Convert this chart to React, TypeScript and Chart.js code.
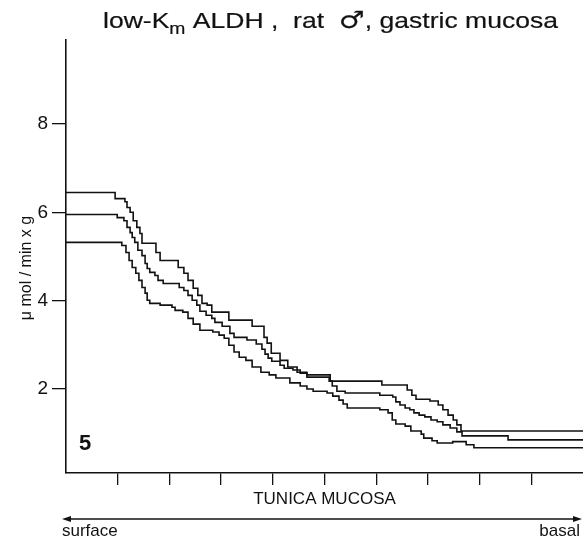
import React, { useEffect, useRef } from "react";
import { Chart, registerables } from "chart.js";

Chart.register(...registerables);

// Relative depth in the tunica mucosa (0 = surface, 100 = basal) where each level starts
const depthUpper = [0, 9.5, 11.4, 11.8, 12.4, 13.0, 13.7, 14.3, 14.7, 17.4, 18.2, 21.7, 22.8, 23.6, 24.6, 25.5, 26.3, 27.3, 28.2, 31.5, 36.0, 38.3, 38.9, 39.7, 41.4, 42.9, 44.7, 46.6, 51.1, 61.1, 66.0, 66.9, 67.7, 70.4, 72.0, 72.9, 73.9, 74.9, 75.6, 76.4, 100];
const activityUpper = [6.45, 6.31, 6.24, 6.11, 6.0, 5.81, 5.66, 5.52, 5.3, 5.09, 4.91, 4.75, 4.62, 4.46, 4.28, 4.12, 3.94, 3.9, 3.74, 3.56, 3.42, 3.17, 3.04, 2.81, 2.65, 2.5, 2.38, 2.32, 2.18, 2.09, 1.98, 1.86, 1.77, 1.73, 1.64, 1.53, 1.41, 1.3, 1.19, 1.05, 1.05];

const depthMiddle = [0, 9.9, 11.2, 11.8, 12.4, 12.8, 13.3, 13.9, 14.7, 15.3, 15.7, 16.2, 17.2, 17.8, 18.8, 21.9, 22.8, 23.6, 24.4, 25.3, 25.9, 27.1, 28.2, 28.8, 30.2, 31.7, 32.5, 35.0, 36.8, 37.9, 38.5, 39.1, 39.8, 41.4, 42.2, 43.9, 45.3, 46.6, 50.9, 51.5, 52.4, 54.0, 60.7, 63.2, 63.8, 64.6, 65.6, 66.5, 67.3, 68.3, 69.4, 70.6, 71.8, 72.9, 74.3, 75.6, 76.6, 85.5, 100];
const activityMiddle = [5.95, 5.88, 5.81, 5.66, 5.54, 5.43, 5.32, 5.14, 5.02, 4.84, 4.73, 4.64, 4.57, 4.46, 4.39, 4.3, 4.23, 4.12, 4.01, 3.9, 3.76, 3.67, 3.6, 3.51, 3.42, 3.26, 3.17, 3.11, 3.02, 2.9, 2.79, 2.7, 2.63, 2.54, 2.47, 2.43, 2.36, 2.27, 2.18, 2.07, 1.95, 1.91, 1.86, 1.82, 1.71, 1.64, 1.57, 1.53, 1.46, 1.41, 1.37, 1.3, 1.26, 1.19, 1.12, 1.03, 0.94, 0.85, 0.85];

const depthLower = [0, 10.8, 11.6, 12.2, 12.8, 13.5, 14.1, 14.7, 15.3, 15.7, 16.2, 18.2, 20.5, 21.1, 22.6, 23.6, 24.6, 25.9, 28.4, 29.6, 30.6, 31.5, 32.5, 33.5, 34.8, 36.0, 37.7, 39.3, 40.6, 43.3, 45.3, 46.6, 47.8, 50.5, 51.6, 52.8, 53.6, 54.4, 60.7, 62.3, 63.1, 63.8, 65.6, 66.7, 68.7, 69.2, 70.8, 71.8, 74.8, 77.4, 78.9, 100];
const activityLower = [5.32, 5.25, 5.09, 4.91, 4.75, 4.62, 4.46, 4.3, 4.17, 4.01, 3.94, 3.9, 3.85, 3.78, 3.74, 3.6, 3.47, 3.33, 3.29, 3.22, 3.15, 2.99, 2.84, 2.72, 2.65, 2.5, 2.38, 2.32, 2.25, 2.14, 2.07, 2.0, 1.95, 1.91, 1.84, 1.75, 1.66, 1.57, 1.53, 1.46, 1.3, 1.21, 1.16, 1.05, 0.98, 0.89, 0.83, 0.78, 0.81, 0.74, 0.67, 0.67];

const yTickValues = [2, 4, 6, 8];
const xTickValues = [10, 20, 30, 40, 50, 60, 70, 80, 90];

const X_MIN = 0;
const X_MAX = 100;
const Y_MIN = 0.1;
const Y_MAX = 9.9;

const FONT = '"Liberation Sans", Arial, Helvetica, "DejaVu Sans", sans-serif';
const SYMBOL_FONT = '"DejaVu Sans", sans-serif';
const INK = "#121212";

const toPoints = (xs: number[], ys: number[]) => xs.map((x, i) => ({ x, y: ys[i] }));

const decorPlugin = {
  id: "decor",
  afterDraw(chart: any) {
    const ctx: CanvasRenderingContext2D = chart.ctx;
    const { left, bottom } = chart.chartArea;
    const W = chart.width;
    ctx.save();
    ctx.fillStyle = INK;
    ctx.strokeStyle = INK;

    // Title with subscript, stretched to the width it has in the figure
    const segs = [
      { t: "low-K", font: `22px ${FONT}`, dy: 0 },
      { t: "m", font: `16px ${FONT}`, dy: 6 },
      { t: " ALDH ,  rat  ", font: `22px ${FONT}`, dy: 0 },
      { t: "\u2642", font: `24px ${SYMBOL_FONT}`, dy: 0 },
      { t: ", gastric mucosa", font: `22px ${FONT}`, dy: 0 },
    ];
    let total = 0;
    for (const s of segs) {
      ctx.font = s.font;
      total += ctx.measureText(s.t).width;
    }
    const titleLeft = 103;
    const titleWidth = 455;
    const sx = titleWidth / total;
    ctx.save();
    ctx.translate(titleLeft, 0);
    ctx.scale(sx, 1);
    ctx.textBaseline = "alphabetic";
    ctx.textAlign = "left";
    ctx.lineWidth = 0.2;
    let x = 0;
    for (const s of segs) {
      ctx.font = s.font;
      ctx.fillText(s.t, x, 28 + s.dy);
      ctx.strokeText(s.t, x, 28 + s.dy);
      x += ctx.measureText(s.t).width;
    }
    ctx.restore();

    // Y axis title
    ctx.save();
    ctx.translate(27, 268);
    ctx.rotate(-Math.PI / 2);
    ctx.textAlign = "center";
    ctx.textBaseline = "middle";
    ctx.font = `16px ${FONT}`;
    ctx.fillText("\u03bc mol / min x g", 0, 0);
    ctx.restore();

    // Panel number
    ctx.font = `bold 22px ${FONT}`;
    ctx.textAlign = "left";
    ctx.textBaseline = "alphabetic";
    ctx.fillText("5", left + 13, bottom - 23);

    // Double arrow
    const ay = 519;
    const ax0 = left - 4;
    const ax1 = W - 1;
    ctx.lineWidth = 1.5;
    ctx.beginPath();
    ctx.moveTo(ax0 + 6, ay);
    ctx.lineTo(ax1 - 6, ay);
    ctx.stroke();
    ctx.beginPath();
    ctx.moveTo(ax0, ay);
    ctx.lineTo(ax0 + 9, ay - 3);
    ctx.lineTo(ax0 + 9, ay + 3);
    ctx.closePath();
    ctx.fill();
    ctx.beginPath();
    ctx.moveTo(ax1, ay);
    ctx.lineTo(ax1 - 9, ay - 3);
    ctx.lineTo(ax1 - 9, ay + 3);
    ctx.closePath();
    ctx.fill();

    ctx.font = `17px ${FONT}`;
    ctx.textBaseline = "alphabetic";
    ctx.textAlign = "left";
    ctx.fillText("surface", left - 4, 536);
    ctx.textAlign = "right";
    ctx.fillText("basal", W - 3, 536);
    ctx.restore();
  },
};

export default function App() {
  const canvasRef = useRef<HTMLCanvasElement | null>(null);

  useEffect(() => {
    if (!canvasRef.current) return;
    const lineStyle = {
      borderColor: INK,
      borderWidth: 1.6,
      pointRadius: 0,
      fill: false,
      stepped: true as const,
    };
    const chart = new Chart(canvasRef.current, {
      type: "line",
      data: {
        datasets: [
          { label: "upper", data: toPoints(depthUpper, activityUpper), ...lineStyle },
          { label: "middle", data: toPoints(depthMiddle, activityMiddle), ...lineStyle },
          { label: "lower", data: toPoints(depthLower, activityLower), ...lineStyle },
        ],
      },
      options: {
        responsive: false,
        animation: false,
        devicePixelRatio: 1,
        layout: { padding: { top: 40, left: 0, right: 0, bottom: 0 } },
        plugins: {
          legend: { display: false },
          tooltip: { enabled: false },
          title: { display: false },
        },
        scales: {
          x: {
            type: "linear",
            min: X_MIN,
            max: X_MAX,
            position: "bottom",
            border: { display: true, color: INK, width: 1.6 },
            grid: { display: true, drawOnChartArea: false, drawTicks: true, tickLength: 12, color: INK, lineWidth: 1.3 },
            ticks: { display: false },
            afterBuildTicks: (scale: any) => {
              scale.ticks = xTickValues.map((v) => ({ value: v }));
            },
            afterFit: (scale: any) => {
              scale.height = 66;
            },
            title: {
              display: true,
              text: "TUNICA MUCOSA",
              color: INK,
              font: { family: FONT, size: 17 },
              padding: { top: 0, bottom: 29 },
            },
          },
          y: {
            type: "linear",
            min: Y_MIN,
            max: Y_MAX,
            position: "left",
            border: { display: true, color: INK, width: 1.6 },
            grid: { display: true, drawOnChartArea: false, drawTicks: true, tickLength: 14, color: INK, lineWidth: 1.3 },
            ticks: {
              color: INK,
              font: { family: FONT, size: 19 },
              padding: 4,
              callback: (v: any) => String(v),
            },
            afterBuildTicks: (scale: any) => {
              scale.ticks = yTickValues.map((v) => ({ value: v }));
            },
            afterFit: (scale: any) => {
              scale.width = 66;
            },
          },
        },
      },
      plugins: [decorPlugin],
    });
    return () => chart.destroy();
  }, []);

  return (
    <div style={{ position: "absolute", left: 0, top: 0, width: 583, height: 539, background: "#fff" }}>
      <canvas ref={canvasRef} width={583} height={539} style={{ display: "block" }} />
    </div>
  );
}
